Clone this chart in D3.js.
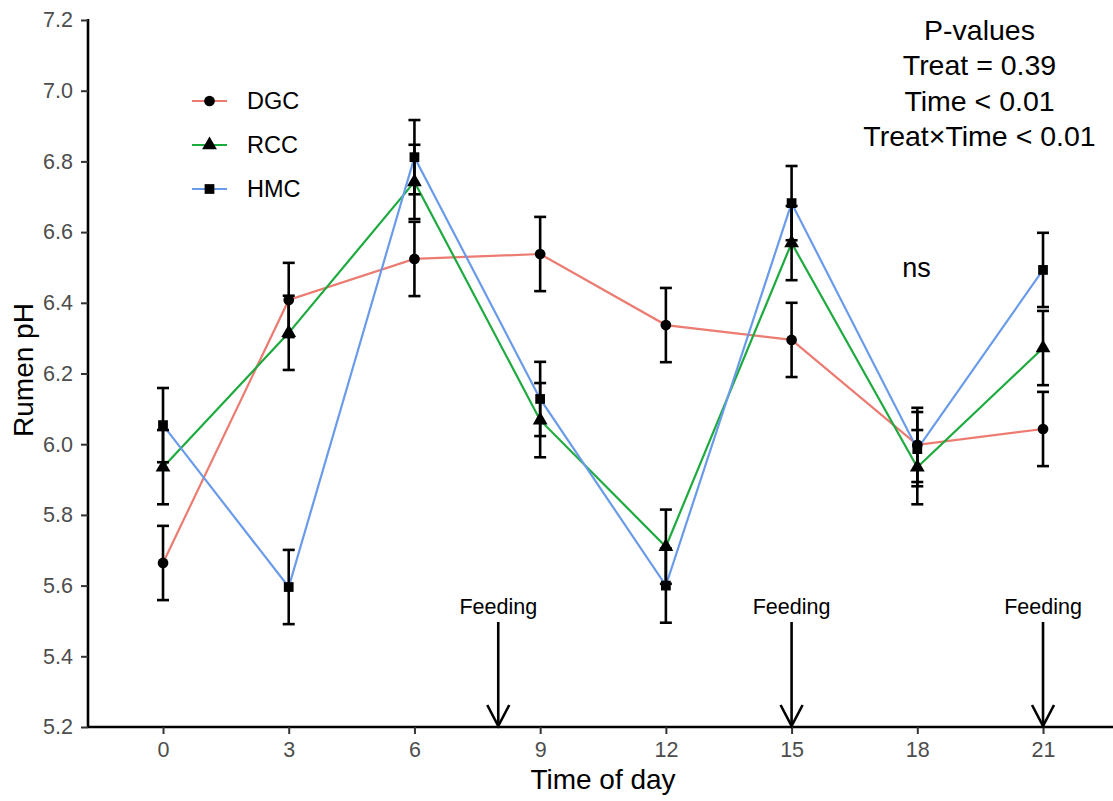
<!DOCTYPE html>
<html>
<head>
<meta charset="utf-8">
<script src="https://cdn.jsdelivr.net/npm/d3@7"></script>
<style>
  body { margin: 0; background: #fff; }
  svg { font-family: Arial, "Liberation Sans", sans-serif; }
</style>
</head>
<body>
<div id="chart"></div>
<script>
// data
const hours = [0, 3, 6, 9, 12, 15, 18, 21];
const dgc = [5.664, 6.408, 6.524, 6.538, 6.337, 6.295, 5.998, 6.043];
const rcc = [5.935, 6.315, 6.742, 6.068, 5.710, 6.569, 5.935, 6.272];
const hmc = [6.054, 5.596, 6.812, 6.128, 5.600, 6.682, 5.986, 6.493];
const sem = 0.105;
const feedings = [8, 15, 21];
const yTicks = [5.2, 5.4, 5.6, 5.8, 6.0, 6.2, 6.4, 6.6, 6.8, 7.0, 7.2];
const pLines = ["P-values", "Treat = 0.39", "Time < 0.01", "Treat\u00d7Time < 0.01"];

const series = [
  { name: "DGC", values: dgc, color: "#EC7B72", shape: d3.symbolCircle, size: 90 },
  { name: "RCC", values: rcc, color: "#1DAA3E", shape: d3.symbolTriangle, size: 95 },
  { name: "HMC", values: hmc, color: "#6A9BEA", shape: d3.symbolSquare, size: 95 }
];

const width = 1113, height = 801;
const plotLeft = 88, plotRight = 1113, plotTop = 20, plotBottom = 727;

const svg = d3.select("#chart").append("svg")
  .attr("width", width)
  .attr("height", height);

const x = d3.scaleLinear().domain([-1.79, 22.67]).range([plotLeft, plotRight]);
const y = d3.scaleLinear().domain([5.2, 7.2]).range([plotBottom, plotTop]);

// axes
const xAxis = d3.axisBottom(x).tickValues(hours).tickSize(7).tickPadding(8);
const yAxis = d3.axisLeft(y).tickValues(yTicks).tickSize(7).tickPadding(8)
  .tickFormat(d3.format(".1f"));

const gx = svg.append("g")
  .attr("transform", "translate(0," + plotBottom + ")")
  .call(xAxis);
const gy = svg.append("g")
  .attr("transform", "translate(" + plotLeft + ",0)")
  .call(yAxis);

[gx, gy].forEach(g => {
  g.attr("font-family", null);
  g.select(".domain").attr("stroke", "#000").attr("stroke-width", 2.6);
  g.selectAll(".tick line").attr("stroke", "#333").attr("stroke-width", 2);
  g.selectAll(".tick text").attr("fill", "#4D4D4D").attr("font-size", 21.5);
});
gx.select(".domain").attr("d", "M" + plotLeft + ",0H" + plotRight);
gy.select(".domain").attr("d", "M0," + (plotTop - 1) + "V" + plotBottom);

// axis titles
svg.append("text")
  .attr("x", 603)
  .attr("y", 789)
  .attr("text-anchor", "middle")
  .attr("font-size", 28)
  .text("Time of day");
svg.append("text")
  .attr("transform", "translate(33,370) rotate(-90)")
  .attr("text-anchor", "middle")
  .attr("font-size", 28)
  .text("Rumen pH");

// lines
const line = d3.line()
  .x((d, i) => x(hours[i]))
  .y(d => y(d));

series.forEach(s => {
  svg.append("path")
    .datum(s.values)
    .attr("fill", "none")
    .attr("stroke", s.color)
    .attr("stroke-width", 2.2)
    .attr("d", line);
});

// error bars
series.forEach(s => {
  const g = svg.append("g").attr("stroke", "#000").attr("stroke-width", 2.6);
  g.selectAll(null)
    .data(s.values)
    .enter()
    .append("line")
    .attr("x1", (d, i) => x(hours[i]))
    .attr("x2", (d, i) => x(hours[i]))
    .attr("y1", d => y(d - sem))
    .attr("y2", d => y(d + sem));
  [-1, 1].forEach(sign => {
    g.selectAll(null)
      .data(s.values)
      .enter()
      .append("line")
      .attr("x1", (d, i) => x(hours[i]) - 6)
      .attr("x2", (d, i) => x(hours[i]) + 6)
      .attr("y1", d => y(d + sign * sem))
      .attr("y2", d => y(d + sign * sem));
  });
});

// points
series.forEach(s => {
  svg.selectAll(null)
    .data(s.values)
    .enter()
    .append("path")
    .attr("d", d3.symbol().type(s.shape).size(s.size))
    .attr("fill", "#000")
    .attr("transform", (d, i) => "translate(" + x(hours[i]) + "," + y(d) + ")");
});

// feeding arrows
feedings.forEach(f => {
  const fx = x(f);
  svg.append("line")
    .attr("x1", fx).attr("x2", fx)
    .attr("y1", 622).attr("y2", plotBottom - 1)
    .attr("stroke", "#000").attr("stroke-width", 2.6);
  svg.append("path")
    .attr("d", "M" + (fx - 11) + "," + (plotBottom - 22) + "L" + fx + "," + (plotBottom - 1) + "L" + (fx + 11) + "," + (plotBottom - 22))
    .attr("fill", "none")
    .attr("stroke", "#000").attr("stroke-width", 2.6);
  svg.append("text")
    .attr("x", fx)
    .attr("y", 614)
    .attr("text-anchor", "middle")
    .attr("font-size", 21.5)
    .text("Feeding");
});

// p-value annotation
svg.selectAll("text.pval")
  .data(pLines)
  .enter()
  .append("text")
  .attr("class", "pval")
  .attr("x", 979.5)
  .attr("y", (d, i) => 39.5 + i * 35.5)
  .attr("text-anchor", "middle")
  .attr("font-size", 28.5)
  .text(d => d);

svg.append("text")
  .attr("x", 916.5)
  .attr("y", 277)
  .attr("text-anchor", "middle")
  .attr("font-size", 27)
  .text("ns");

// legend
const legend = svg.append("g");
series.forEach((s, i) => {
  const ly = 101 + i * 44;
  legend.append("line")
    .attr("x1", 192).attr("x2", 227)
    .attr("y1", ly).attr("y2", ly)
    .attr("stroke", s.color).attr("stroke-width", 2.2);
  legend.append("path")
    .attr("d", d3.symbol().type(s.shape).size(s.size))
    .attr("transform", "translate(209.5," + ly + ")")
    .attr("fill", "#000");
  legend.append("text")
    .attr("x", 247)
    .attr("y", ly + 8)
    .attr("font-size", 23.5)
    .text(s.name);
});
</script>
</body>
</html>
